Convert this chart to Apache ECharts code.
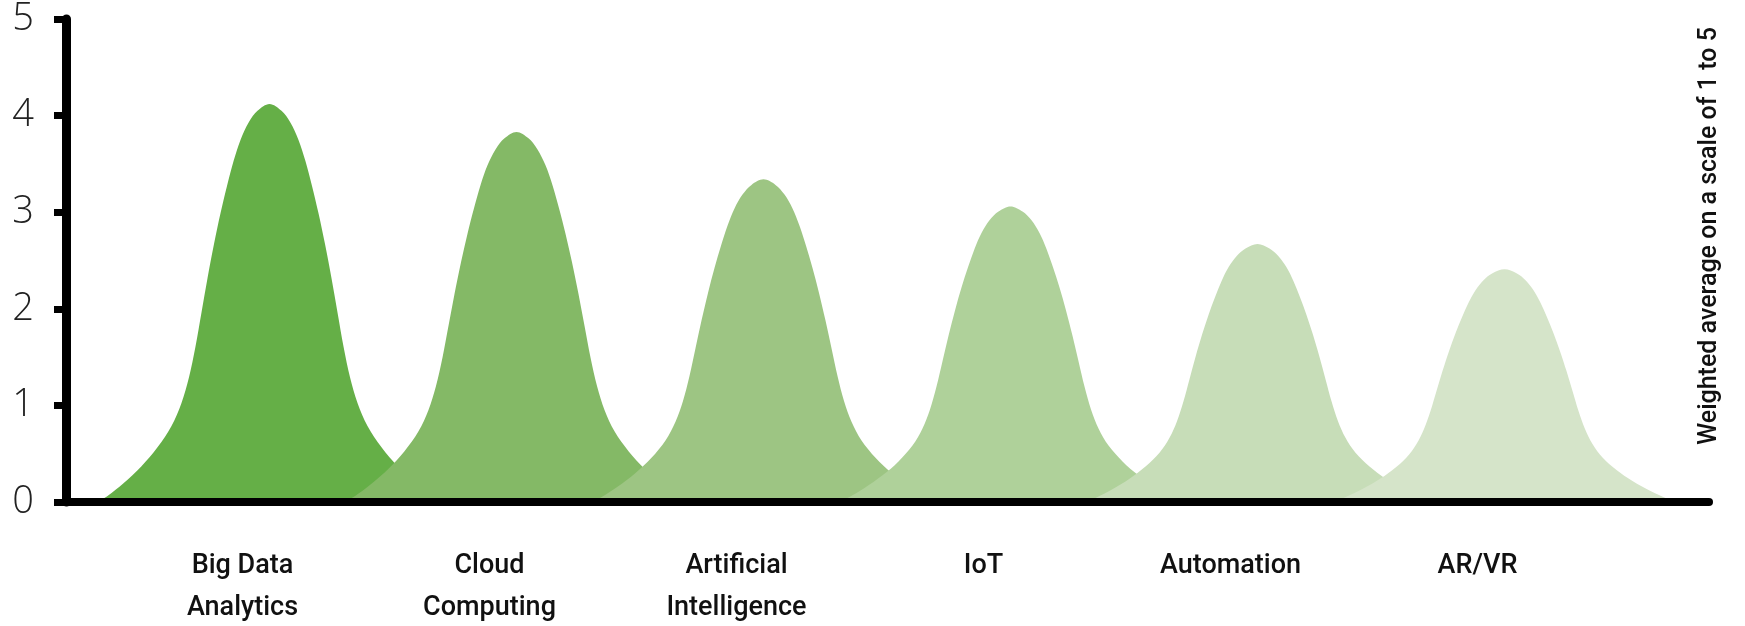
<!DOCTYPE html>
<html>
<head>
<meta charset="utf-8">
<script src="https://cdn.jsdelivr.net/npm/echarts@6/dist/echarts.min.js"></script>
<style>
  html, body { margin: 0; padding: 0; background: #ffffff; }
  #chart { width: 1745px; height: 626px; }
</style>
</head>
<body>
<div id="chart"></div>
<script>
// ---- data ----
const categories = ['Big Data\nAnalytics', 'Cloud\nComputing', 'Artificial\nIntelligence', 'IoT', 'Automation', 'AR/VR'];
const values = [4.12, 3.83, 3.34, 3.06, 2.67, 2.41];
const yMin = 0;
const yMax = 5;
const yStep = 1;
const axisTitle = 'Weighted average on a scale of 1 to 5';

// ---- style ----
const palette = ['#65af47', '#84b966', '#9dc583', '#afd19a', '#c7ddb8', '#d5e4c9'];
// bell outline (right half of the mark's shape): [half-width, depth from peak], box 344 x 233
const bellHalf = [
  [0, 0], [12, 4], [21, 11], [29, 21], [36, 33.5], [42.5, 48], [49, 64], [55.5, 82],
  [62, 102], [68, 122], [74, 142], [80.5, 160], [88, 175], [98, 188.5], [112, 201],
  [128, 212], [146, 222], [161, 229], [172, 233]
];
function bellSymbol(half) {
  const w = 172;
  const pts = [];
  for (let i = half.length - 1; i > 0; i--) pts.push([w - half[i][0], half[i][1]]);
  for (let i = 0; i < half.length; i++) pts.push([w + half[i][0], half[i][1]]);
  let d = 'M' + pts[0][0] + ',' + pts[0][1];
  for (let i = 0; i < pts.length - 1; i++) {
    const p0 = pts[i - 1] || pts[i], p1 = pts[i], p2 = pts[i + 1], p3 = pts[i + 2] || pts[i + 1];
    const c1 = [p1[0] + (p2[0] - p0[0]) / 6, p1[1] + (p2[1] - p0[1]) / 6];
    const c2 = [p2[0] - (p3[0] - p1[0]) / 6, p2[1] - (p3[1] - p1[1]) / 6];
    d += ' C' + c1[0].toFixed(2) + ',' + c1[1].toFixed(2) + ' ' + c2[0].toFixed(2) + ',' + c2[1].toFixed(2) + ' ' + p2[0] + ',' + p2[1];
  }
  d += ' Z';
  return 'path://' + d;
}
const bellPath = bellSymbol(bellHalf);
const labelFont = "'Roboto', 'Liberation Sans Narrow', sans-serif";

const chart = echarts.init(document.getElementById('chart'), null, { renderer: 'canvas' });

const option = {
  backgroundColor: '#ffffff',
  animation: false,
  grid: [
    { left: 66, right: 36, top: 19, bottom: 124, outerBoundsMode: 'none', containLabel: false },
    { left: 119, width: 1482, top: 19, bottom: 124, outerBoundsMode: 'none', containLabel: false }
  ],
  xAxis: [
    {
      type: 'value', gridIndex: 0, min: 0, max: 1, z: 10,
      axisLine: { show: true, onZero: false, lineStyle: { color: '#000000', width: 8 } },
      axisTick: { show: false }, axisLabel: { show: false }, splitLine: { show: false }
    },
    {
      type: 'category', gridIndex: 1, data: categories, boundaryGap: true,
      axisLine: { show: false }, axisTick: { show: false }, splitLine: { show: false },
      axisLabel: {
        show: true, interval: 0, margin: 43,
        fontFamily: labelFont, fontWeight: 500, fontSize: 27, lineHeight: 42, color: '#111111'
      }
    }
  ],
  yAxis: [
    {
      type: 'value', gridIndex: 0, min: yMin, max: yMax, interval: yStep, z: 10,
      axisLine: { show: true, lineStyle: { color: '#000000', width: 9 } },
      axisTick: { show: true, inside: false, length: 12, lineStyle: { color: '#000000', width: 7 } },
      axisLabel: { show: true, margin: 32, fontFamily: "'Open Sans', 'Lato', sans-serif", fontWeight: 300, fontSize: 38, color: '#222222' },
      splitLine: { show: false }
    },
    {
      type: 'value', gridIndex: 1, min: yMin, max: yMax, interval: yStep, show: false
    }
  ],
  graphic: [
    {
      type: 'text', x: 1710, y: 236, rotation: Math.PI / 2,
      style: {
        text: axisTitle, fontFamily: labelFont, fontWeight: 500, fontSize: 25, fill: '#111111',
        align: 'center', verticalAlign: 'middle'
      }
    }
  ],
  series: [
    {
      type: 'pictorialBar',
      xAxisIndex: 1, yAxisIndex: 1,
      z: 2,
      symbol: bellPath,
      symbolSize: [344, '100%'],
      symbolOffset: [27, 0],
      symbolPosition: 'start',
      data: values.map((v, i) => ({ value: v, itemStyle: { color: palette[i] } }))
    }
  ]
};

chart.setOption(option);
</script>
</body>
</html>
